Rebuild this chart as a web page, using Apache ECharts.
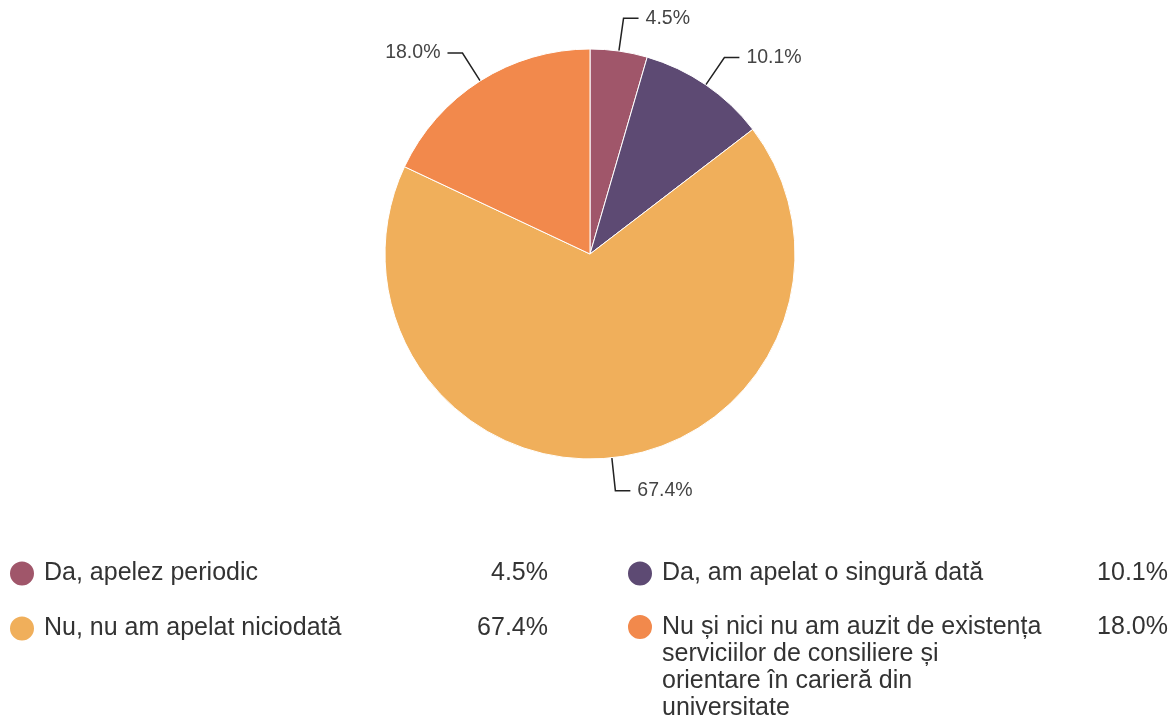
<!DOCTYPE html>
<html>
<head>
<meta charset="utf-8">
<script src="https://cdn.jsdelivr.net/npm/echarts@6/dist/echarts.min.js"></script>
<style>
  html, body { margin: 0; padding: 0; background: #fff; }
  #main { width: 1171px; height: 721px; }
</style>
</head>
<body>
<div id="main"></div>
<script>
// categories and values
var categories = [
  'Da, apelez periodic',
  'Da, am apelat o singură dată',
  'Nu, nu am apelat niciodată',
  'Nu și nici nu am auzit de existența serviciilor de consiliere și orientare în carieră din universitate'
];
var values = [4.5, 10.1, 67.4, 18.0];
var colors = ['#a0566a', '#5d4a73', '#f0af5b', '#f2894c'];
// how the legend text wraps
var legendLines = [
  ['Da, apelez periodic'],
  ['Da, am apelat o singură dată'],
  ['Nu, nu am apelat niciodată'],
  ['Nu și nici nu am auzit de existența', 'serviciilor de consiliere și', 'orientare în carieră din', 'universitate']
];

var FONT = '"Liberation Sans", Arial, sans-serif';
var LH = 27;

function pct(v) { return v.toFixed(1) + '%'; }

// one legend per item, 2 columns: [left, icon centre y]
var slots = [[8, 573], [626, 573], [8, 628], [626, 628]];
var legends = categories.map(function (name, i) {
  var lines = legendLines[i];
  var extra = lines.length - 1;
  // blank lines above keep the icon on the first text line
  var top = slots[i][1] - LH * (2 * extra + 1) / 2;
  return {
    data: [name],
    left: slots[i][0],
    top: top,
    padding: 0,
    orient: 'vertical',
    icon: 'circle',
    itemWidth: 34,
    itemHeight: 26,
    selectedMode: false,
    formatter: function () {
      var s = '';
      for (var k = 0; k < extra; k++) s += '{n| }\n';
      s += '{n|' + lines[0] + '}{v|' + pct(values[i]) + '}';
      for (var k2 = 1; k2 < lines.length; k2++) s += '\n{n|' + lines[k2] + '}';
      return s;
    },
    textStyle: {
      rich: {
        n: { fontFamily: FONT, fontSize: 25, color: '#333', width: i % 2 ? 416 : 414, lineHeight: LH },
        v: { fontFamily: FONT, fontSize: 25, color: '#333', width: 90, align: 'right', lineHeight: LH }
      }
    }
  };
});

var myChart = echarts.init(document.getElementById('main'));
var option = {
  color: colors,
  animation: false,
  legend: legends,
  series: [{
    type: 'pie',
    center: [590, 254],
    radius: 205,
    startAngle: 90,
    clockwise: true,
    data: categories.map(function (c, i) { return { name: c, value: values[i] }; }),
    itemStyle: { borderColor: '#fff', borderWidth: 1 },
    label: {
      formatter: function (p) { return pct(p.value); },
      fontFamily: FONT,
      fontSize: 19.5,
      color: '#444',
      distanceToLabelLine: 7
    },
    labelLine: {
      length: 33,
      length2: 15,
      lineStyle: { color: '#222', width: 1.5 }
    },
    emphasis: { disabled: true }
  }]
};
myChart.setOption(option);
</script>
</body>
</html>
